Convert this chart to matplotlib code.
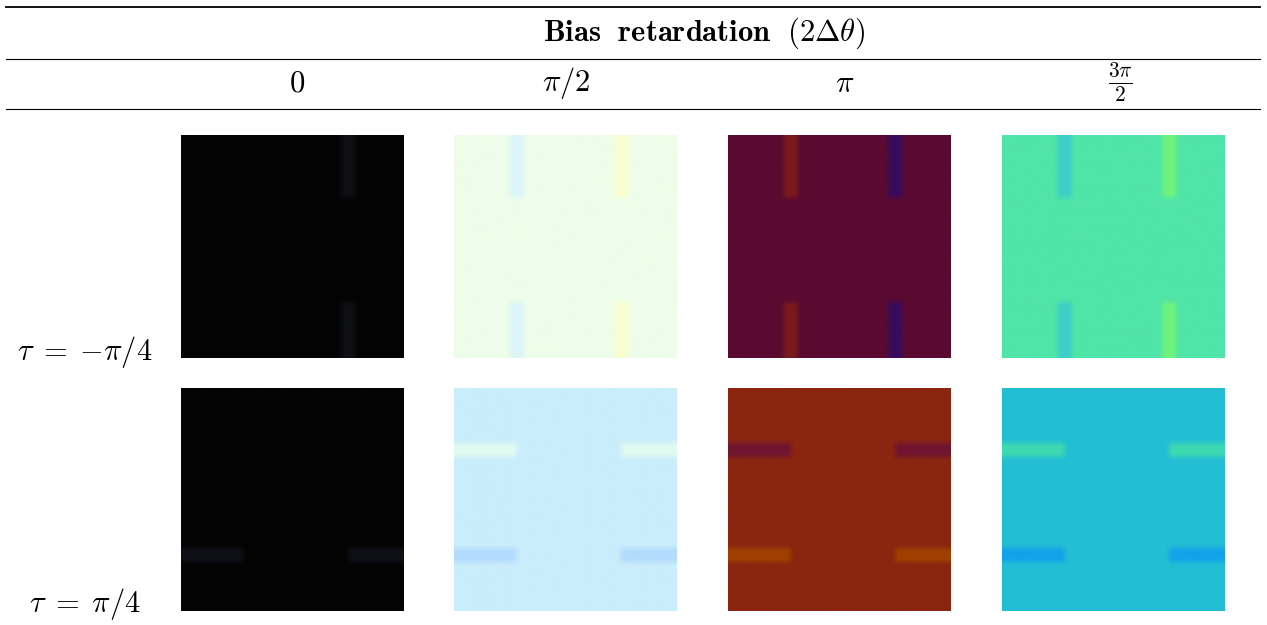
import numpy as np
import matplotlib
matplotlib.use("Agg")
import matplotlib.pyplot as plt
from matplotlib.colors import to_rgb
from matplotlib.lines import Line2D

plt.rcParams["mathtext.fontset"] = "cm"
plt.rcParams["font.family"] = "serif"
plt.rcParams["font.serif"] = ["DejaVu Serif"]

# data
col_labels = [r"$0$", r"$\pi/2$", r"$\pi$", r"$\frac{3\pi}{2}$"]
row_labels = [r"$\tau\;=\;{-}\pi/4$", r"$\tau\;=\;\pi/4$"]
title = r"$\mathbf{Bias\ \ retardation}\ \ (2\Delta\theta)$"

# each tile: background colour, first stripe colour, second stripe colour
base_tau_m = ["#030303", "#edfde9", "#5a0a30", "#50e4a8"]
stripe_a_tau_m = ["#040404", "#dcf5f9", "#7a1a1c", "#3ecfc8"]
stripe_b_tau_m = ["#0e1014", "#f9fdd0", "#380a5e", "#6ef27e"]

base_tau_p = ["#030303", "#c9edfb", "#8a2510", "#23bed4"]
stripe_a_tau_p = ["#040404", "#e2fbf2", "#701430", "#3cd9b2"]
stripe_b_tau_p = ["#0e1016", "#b3dbfd", "#a04000", "#12a2ea"]

# stripe geometry on a 32x32 sample grid
n_grid = 32
stripe_a_idx = [8, 9]
stripe_b_idx = [23, 24]
stripe_span = list(range(0, 9)) + list(range(24, 32))


def make_tile(base, sa, sb, vertical):
    img = np.ones((n_grid, n_grid, 3)) * np.array(to_rgb(base))
    for idx, c in ((stripe_a_idx, sa), (stripe_b_idx, sb)):
        for i in idx:
            for j in stripe_span:
                if vertical:
                    img[j, i] = to_rgb(c)
                else:
                    img[i, j] = to_rgb(c)
    return img


W, H = 1267, 625
fig = plt.figure(figsize=(W / 100, H / 100), dpi=100)

tile_x = [181, 454, 728, 1002]
tile_y = [135, 388]
tile_s = 223

rows = [(base_tau_m, stripe_a_tau_m, stripe_b_tau_m, True),
        (base_tau_p, stripe_a_tau_p, stripe_b_tau_p, False)]

for r, (bases, sas, sbs, vert) in enumerate(rows):
    for c in range(4):
        ax = fig.add_axes([tile_x[c] / W, 1 - (tile_y[r] + tile_s) / H,
                           tile_s / W, tile_s / H])
        ax.imshow(make_tile(bases[c], sas[c], sbs[c], vert),
                  interpolation="bilinear", aspect="auto")
        ax.axis("off")

# booktabs style rules
for y, lw in ((7, 1.3), (59, 0.8), (108.5, 0.8)):
    fig.add_artist(Line2D([6 / W, 1260 / W], [1 - y / H, 1 - y / H],
                          color="black", lw=lw, transform=fig.transFigure))

fs = 22
fig.text(704 / W, 1 - 33 / H, title, ha="center", va="center", fontsize=fs)

label_x = [297, 566, 845, 1120]
for x, lab in zip(label_x, col_labels):
    fig.text(x / W, 1 - 83 / H, lab, ha="center", va="center", fontsize=fs)

fig.text(85 / W, 1 - 352 / H, row_labels[0], ha="center", va="center", fontsize=fs)
fig.text(85 / W, 1 - 604 / H, row_labels[1], ha="center", va="center", fontsize=fs)

fig.savefig("out.png", dpi=100)
